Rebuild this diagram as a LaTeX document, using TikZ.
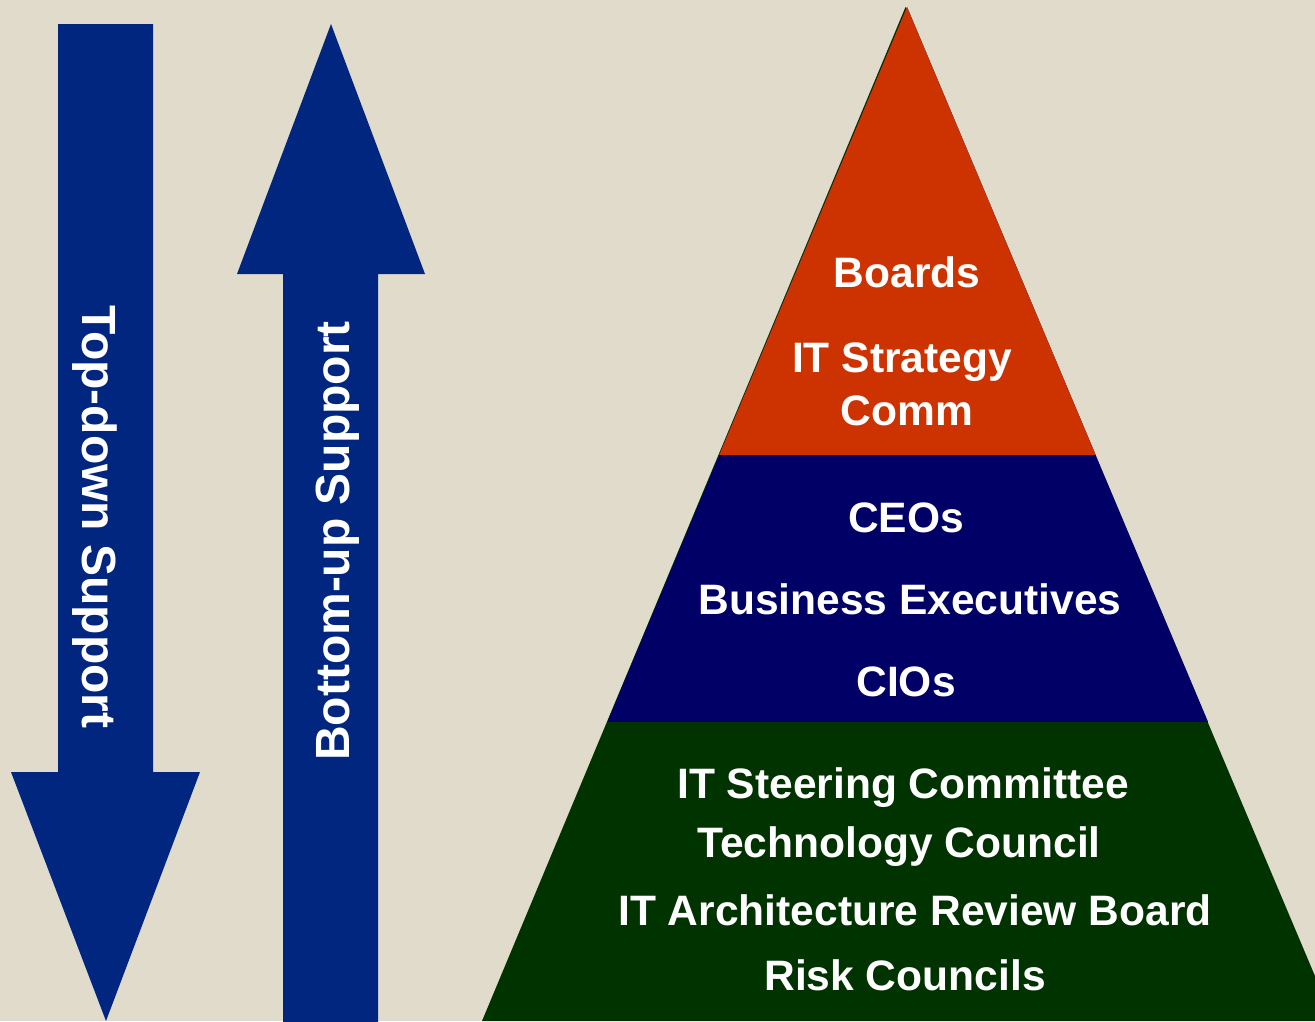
\documentclass[tikz,border=0pt]{standalone}
\usepackage{fontspec}
\setmainfont{Liberation Sans}
\usetikzlibrary{calc}
\definecolor{paper}{HTML}{E0DBCB}
\definecolor{arrowblue}{HTML}{00267F}
\definecolor{topred}{HTML}{CC3300}
\definecolor{midnavy}{HTML}{000066}
\definecolor{basegreen}{HTML}{003300}
\tikzset{
  layer/.style={font=\fontsize{12.1pt}{14pt}\selectfont\bfseries, text=white, anchor=base, inner sep=0pt},
  side/.style={font=\fontsize{13.65pt}{16pt}\selectfont\bfseries, text=white, anchor=base, inner sep=0pt}
}
\begin{document}
\begin{tikzpicture}[x=0.01cm, y=-0.01cm]

% Background
\fill[paper] (0,0) rectangle (1315,1021);
\useasboundingbox (0,0) rectangle (1315,1021);
\clip (0,0) rectangle (1315,1021);

% Arrows
\fill[arrowblue] (58,24) -- (153,24) -- (153,772) -- (200,772) -- (106,1021)
  -- (11,772) -- (58,772) -- cycle;
\fill[arrowblue] (283,1030) -- (283,274) -- (237,274) -- (331,24) -- (425,274)
  -- (378,274) -- (378,1030) -- cycle;

% Pyramid corners and layer cuts
\coordinate (apex) at (907,7);
\coordinate (bl) at (482,1021);
\coordinate (br) at (1334,1021);
\coordinate (redL) at ($(apex)!0.4418!(bl)$);
\coordinate (redR) at ($(apex)!0.4418!(br)$);
\coordinate (navyL) at ($(apex)!0.7051!(bl)$);
\coordinate (navyR) at ($(apex)!0.7051!(br)$);

% Layers
\fill[basegreen] (905.5,7) -- (bl) -- (br) -- cycle;
\fill[midnavy] (apex) -- (navyL) -- (navyR) -- cycle;
\fill[topred] (apex) -- (redL) -- (redR) -- cycle;

% Side labels
\node[side, rotate=-90] (topdown) at (82,517) {Top-down Support};
\node[side, rotate=90] (bottomup) at (349,541) {Bottom-up Support};

% Layer labels
\node[layer] (boards) at (907,287) {Boards};
\node[layer] (strategy) at (902,372) {IT Strategy};
\node[layer] (comm) at (907,425) {Comm};

\node[layer] (ceos) at (906,532) {CEOs};
\node[layer] (execs) at (910,614) {Business Executives};
\node[layer] (cios) at (906,696) {CIOs};

\node[layer] (steering) at (903,798) {IT Steering Committee};
\node[layer] (techcouncil) at (899,857) {Technology Council};
\node[layer] (archboard) at (915,925) {IT Architecture Review Board};
\node[layer] (risk) at (905,990) {Risk Councils};

\end{tikzpicture}
\end{document}
